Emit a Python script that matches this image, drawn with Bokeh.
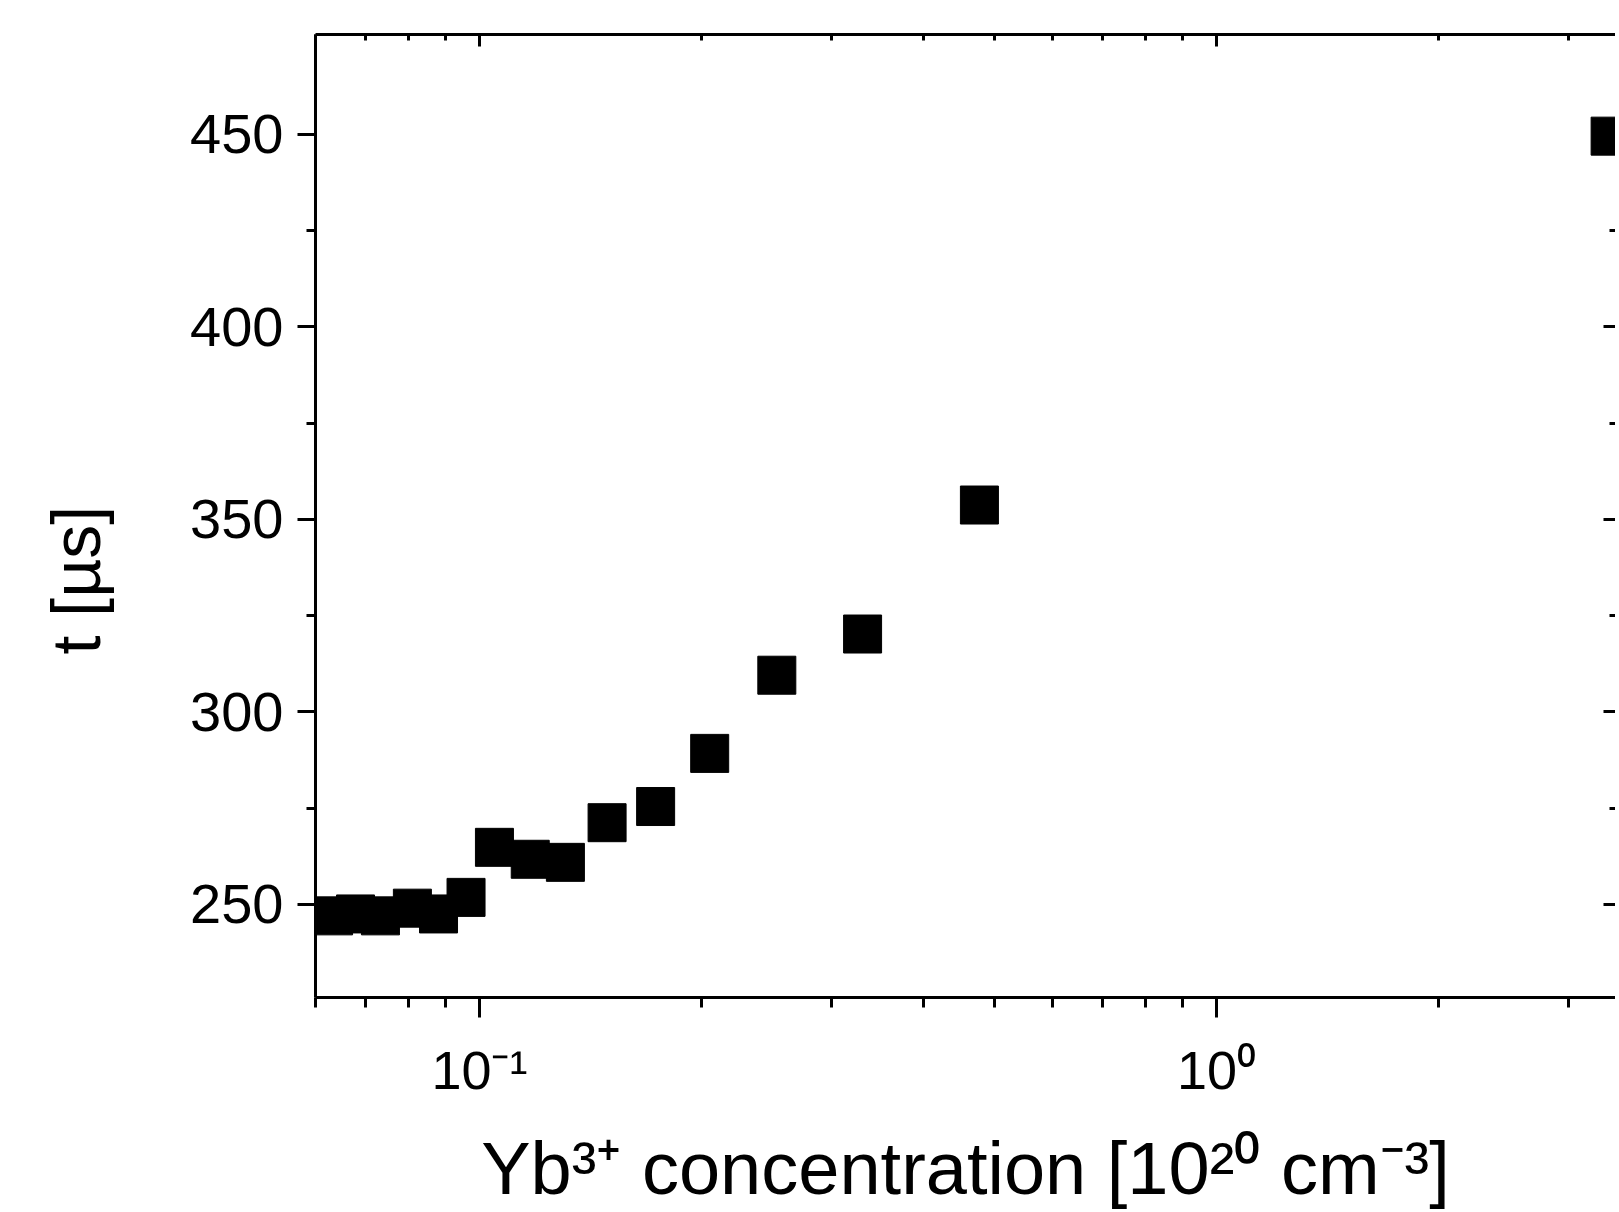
from bokeh.plotting import figure
from bokeh.models import Range1d, FixedTicker, LogAxis, LinearAxis, CustomJSTickFormatter, Title
from bokeh.embed import file_html
from bokeh.resources import INLINE

# --- data ---
conc = [0.0634, 0.0679, 0.0734, 0.0811, 0.0880, 0.0959, 0.1048, 0.1172, 0.1308,
        0.149, 0.1734, 0.2053, 0.2532, 0.3310, 0.4768, 3.42]
tau = [247.0, 247.5, 247.0, 249.0, 247.5, 251.8, 264.8, 261.7, 260.9,
       271.2, 275.4, 289.2, 309.5, 320.2, 353.7, 449.5]

x_major = [0.1, 1.0]
x_minor = [0.06, 0.07, 0.08, 0.09, 0.2, 0.3, 0.4, 0.5, 0.6, 0.7, 0.8, 0.9, 2.0, 3.0]
x_labels = {0.1: "10⁻¹", 1.0: "10⁰"}
y_major = [250, 300, 350, 400, 450]
y_minor = [275, 325, 375, 425]

x_title = "Yb³⁺ concentration [10²⁰ cm⁻³]"
y_title = "t [µs]"

FONT = "Liberation Sans"

p = figure(width=1615, height=1212, x_axis_type="log",
           x_range=Range1d(0.05992, 3.478), y_range=Range1d(225.8, 475.9),
           output_backend="svg", toolbar_location=None,
           min_border_left=315, min_border_right=0, min_border_top=34,
           min_border_bottom=212)
p.background_fill_color = "white"
p.border_fill_color = "white"
p.outline_line_color = None
p.xgrid.visible = False
p.ygrid.visible = False

p.scatter(conc, tau, marker="square", size=38, fill_color="black", line_color="black")

def style(ax, out_major, out_minor, in_major, in_minor):
    ax.axis_line_width = 3
    ax.axis_line_color = "black"
    ax.major_tick_line_width = 3
    ax.minor_tick_line_width = 3
    ax.major_tick_line_color = "black"
    ax.minor_tick_line_color = "black"
    ax.major_tick_out = out_major
    ax.minor_tick_out = out_minor
    ax.major_tick_in = in_major
    ax.minor_tick_in = in_minor

# bottom axis
xa = p.xaxis[0]
xa.ticker = FixedTicker(ticks=x_major, minor_ticks=x_minor)
xa.major_label_overrides = x_labels
xa.major_label_text_font = FONT
xa.major_label_text_font_size = "54px"
xa.major_label_text_color = "black"
xa.major_label_standoff = 22
xa.axis_label = x_title
xa.axis_label_text_font = FONT
xa.axis_label_text_font_size = "74px"
xa.axis_label_text_font_style = "normal"
xa.axis_label_text_color = "black"
xa.axis_label_standoff = 24
style(xa, 20, 10, 0, 0)

# left axis (blank axis label only reserves room so the title sits further left)
ya = p.yaxis[0]
ya.ticker = FixedTicker(ticks=y_major, minor_ticks=y_minor)
ya.major_label_text_font = FONT
ya.major_label_text_font_size = "56px"
ya.major_label_text_color = "black"
ya.major_label_standoff = 14
ya.axis_label = " "
ya.axis_label_text_font_size = "40px"
ya.axis_label_text_color = "white"
ya.axis_label_standoff = 22
style(ya, 18, 9, 0, 0)

# y title, placed below the frame centre like the reference
p.add_layout(Title(text=y_title, align="left", offset=343, standoff=10,
                   text_font=FONT, text_font_size="68px", text_font_style="normal",
                   text_color="black"), "left")

blank = CustomJSTickFormatter(code="return ''")

# top axis (ticks inside, no labels)
ta = LogAxis(ticker=FixedTicker(ticks=x_major, minor_ticks=x_minor), formatter=blank,
             major_label_standoff=0, major_label_text_font_size="0px")
style(ta, 0, 0, 12, 6)
p.add_layout(ta, "above")

# right axis (ticks inside, line beyond view)
ra = LinearAxis(ticker=FixedTicker(ticks=y_major, minor_ticks=y_minor), formatter=blank,
                major_label_standoff=0, major_label_text_font_size="0px")
style(ra, 0, 0, 12, 6)
ra.axis_line_color = None
p.add_layout(ra, "right")

open("out.html", "w").write(file_html(p, INLINE))
